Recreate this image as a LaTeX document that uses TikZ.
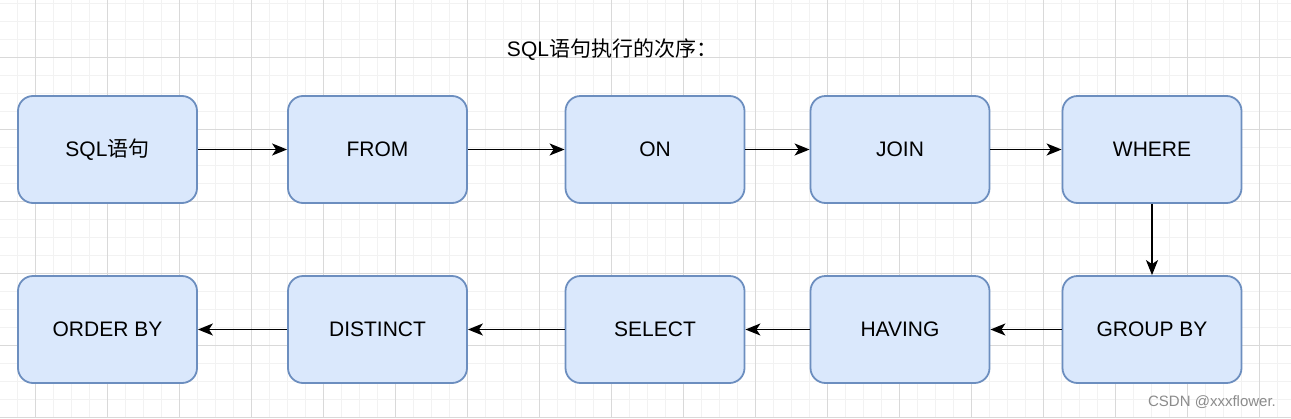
\documentclass[tikz,border=0pt]{standalone}
\usepackage{fontspec}
\setmainfont{Liberation Sans}
\newfontfamily\cjk{Noto Sans CJK SC}
\usetikzlibrary{arrows.meta, positioning}

\definecolor{boxfill}{HTML}{DAE8FC}
\definecolor{boxline}{HTML}{6C8EBF}
\definecolor{gridminor}{HTML}{F2F2F2}
\definecolor{gridmajor}{HTML}{D9D9D9}

\tikzset{
	stepbox/.style={draw=boxline, fill=boxfill, line width=1.8pt, rounded corners=15pt,
		minimum width=179pt, minimum height=107pt, font=\fontsize{21}{25}\selectfont},
	flow/.style={line width=1.8pt, -{Stealth[length=15pt, width=12pt, inset=4pt]}}
}

\begin{document}
\begin{tikzpicture}[x=1pt, y=-1pt]
		\useasboundingbox (0,0) rectangle (1291,418);

		% Grid
		\begin{scope}
			\fill[white] (0,0) rectangle (1291,418);
			\foreach \gx in {17,35,...,1290} {\draw[gridminor, line width=1pt] (\gx,0) -- (\gx,418);}
			\foreach \gy in {3,21,...,417} {\draw[gridminor, line width=1pt] (0,\gy) -- (1291,\gy);}
			\foreach \gx in {35,107,...,1290} {\draw[gridmajor, line width=1pt] (\gx,0) -- (\gx,418);}
			\foreach \gy in {57,129,...,417} {\draw[gridmajor, line width=1pt] (0,\gy) -- (1291,\gy);}
		\end{scope}

		\node (title) at (612,50) [font=\fontsize{21}{25}\selectfont] {SQL{\cjk 语句执行的次序：}};

		% First row
		\begin{scope}
			\node (sql) at (107.5,149.5) [stepbox] {SQL{\cjk 语句}};
			\node (from) at (377.5,149.5) [stepbox] {FROM};
			\node (on) at (655,149.5) [stepbox] {ON};
			\node (join) at (900,149.5) [stepbox] {JOIN};
			\node (where) at (1152,149.5) [stepbox] {WHERE};
		\end{scope}

		% Second row
		\begin{scope}
			\node (groupby) at (1152,329.5) [stepbox] {GROUP BY};
			\node (having) at (900,329.5) [stepbox] {HAVING};
			\node (select) at (655,329.5) [stepbox] {SELECT};
			\node (distinct) at (377.5,329.5) [stepbox] {DISTINCT};
			\node (orderby) at (107.5,329.5) [stepbox] {ORDER BY};
		\end{scope}

		% Order
		\draw[flow] (sql) -- (from);
		\draw[flow] (from) -- (on);
		\draw[flow] (on) -- (join);
		\draw[flow] (join) -- (where);
		\draw[flow] (where) -- (groupby);
		\draw[flow] (groupby) -- (having);
		\draw[flow] (having) -- (select);
		\draw[flow] (select) -- (distinct);
		\draw[flow] (distinct) -- (orderby);

		\node (mark) at (1212,402) [text=black!45, font=\fontsize{15}{18}\selectfont] {CSDN @xxxflower.};
	\end{tikzpicture}
\end{document}
